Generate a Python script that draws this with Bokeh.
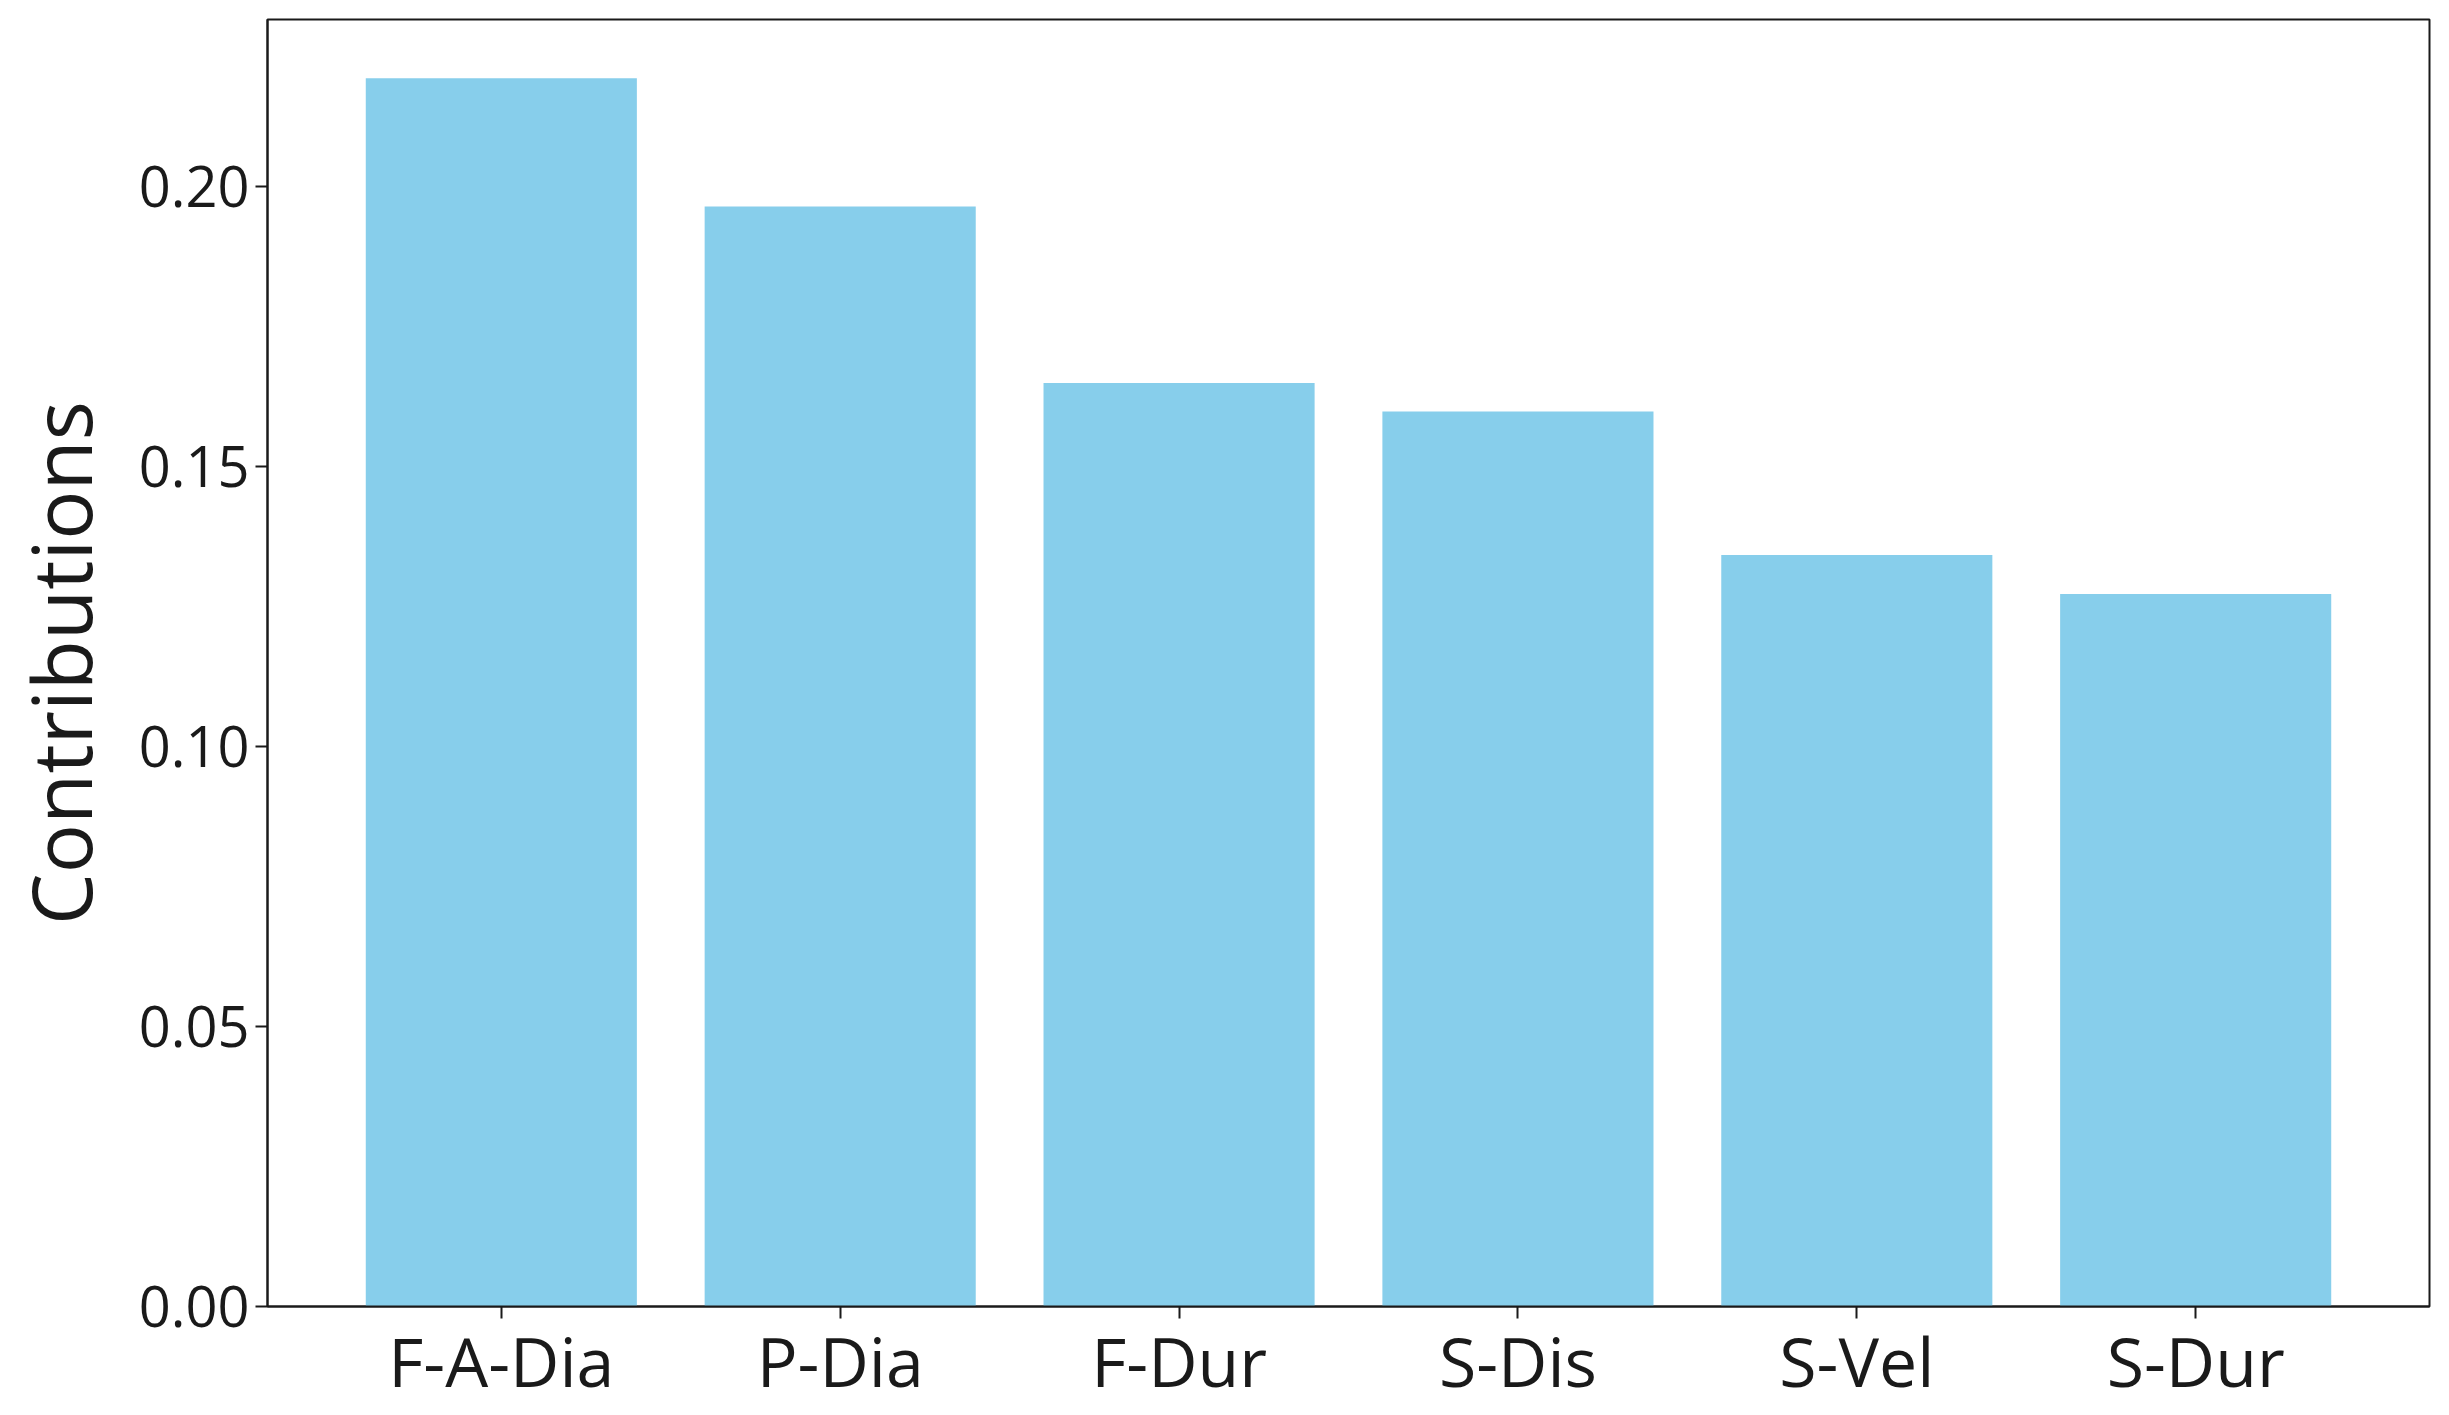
from bokeh.plotting import figure
from bokeh.models import Range1d, FixedTicker, NumeralTickFormatter
from bokeh.embed import file_html
from bokeh.resources import INLINE

categories = ["F-A-Dia", "P-Dia", "F-Dur", "S-Dis", "S-Vel", "S-Dur"]
contributions = [0.2193, 0.1964, 0.1649, 0.1598, 0.1342, 0.1272]
y_ticks = [0.00, 0.05, 0.10, 0.15, 0.20]
y_label = "Contributions"

FONT = "Open Sans"
positions = list(range(len(categories)))

p = figure(width=2441, height=1413, output_backend="svg", toolbar_location=None,
           x_range=Range1d(-0.69, len(categories) - 1 + 0.69),
           y_range=Range1d(0, 0.2298))
p.min_border_left = 200
p.min_border_right = 12
p.min_border_top = 19
p.min_border_bottom = 107

p.vbar(x=positions, top=contributions, width=0.8, bottom=0,
       fill_color="#87CEEB", line_color=None)

p.xgrid.visible = False
p.ygrid.visible = False
p.outline_line_color = "#1a1a1a"
p.outline_line_width = 2
p.background_fill_color = "white"
p.border_fill_color = "white"

p.xaxis.ticker = FixedTicker(ticks=positions)
p.xaxis.major_label_overrides = {i: c for i, c in enumerate(categories)}
p.yaxis.ticker = FixedTicker(ticks=y_ticks)
p.yaxis.formatter = NumeralTickFormatter(format="0.00")

for ax in (p.xaxis, p.yaxis):
    ax.axis_line_color = "#1a1a1a"
    ax.axis_line_width = 2
    ax.major_tick_line_color = "#1a1a1a"
    ax.major_tick_line_width = 2
    ax.major_tick_in = 0
    ax.major_tick_out = 12
    ax.minor_tick_line_color = None
    ax.major_label_text_font = FONT
    ax.major_label_text_color = "#1a1a1a"

p.xaxis.major_label_text_font_size = "68px"
p.xaxis.major_label_standoff = -5
p.yaxis.major_label_text_font_size = "56px"
p.yaxis.major_label_standoff = 6

p.yaxis.axis_label = y_label
p.yaxis.axis_label_text_font = FONT
p.yaxis.axis_label_text_font_size = "82px"
p.yaxis.axis_label_text_font_style = "normal"
p.yaxis.axis_label_text_color = "#1a1a1a"
p.yaxis.axis_label_standoff = 20

open("out.html", "w").write(file_html(p, INLINE))
